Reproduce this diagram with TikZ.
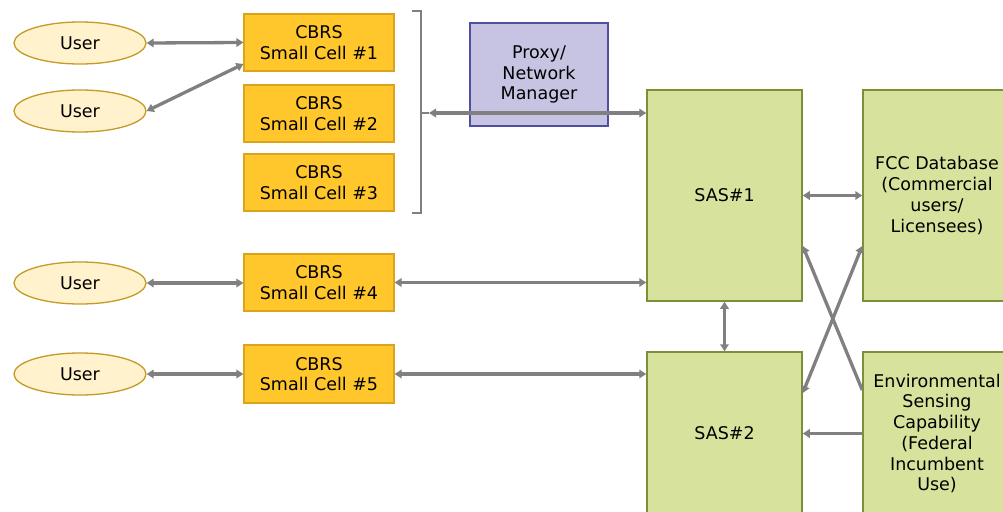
\documentclass[tikz,border=0pt]{standalone}
\usepackage{fontspec}
\setmainfont{DejaVu Sans}
\usetikzlibrary{shapes.geometric,arrows.meta,calc}

\definecolor{userfill}{HTML}{FFF2CC}
\definecolor{userline}{HTML}{C49A26}
\definecolor{cellfill}{HTML}{FFC72C}
\definecolor{cellline}{HTML}{DCA41C}
\definecolor{proxyfill}{HTML}{C7C4E3}
\definecolor{proxyline}{HTML}{4F4F9F}
\definecolor{sasfill}{HTML}{D7E39D}
\definecolor{sasline}{HTML}{7A913A}
\definecolor{linkgray}{HTML}{808080}

\tikzset{
  every node/.style={font=\fontsize{17.5}{20.7}\selectfont, text=black, align=center, inner sep=0pt},
  userbox/.style={ellipse, draw=userline, fill=userfill, line width=1.3pt,
                  minimum width=132pt, minimum height=42pt},
  cellbox/.style={rectangle, draw=cellline, fill=cellfill, line width=1.2pt,
                  minimum width=150pt, minimum height=57pt},
  proxybox/.style={rectangle, draw=proxyline, fill=proxyfill, line width=1.2pt,
                  minimum width=138pt, minimum height=103pt},
  sasbox/.style={rectangle, draw=sasline, fill=sasfill, line width=1.5pt},
  link/.style={draw=linkgray, line width=3.3pt},
  both/.style={link, {Triangle[length=7pt,width=8.5pt]}-{Triangle[length=7pt,width=8.5pt]}},
  toend/.style={link, -{Triangle[length=7pt,width=8.5pt]}},
}

\begin{document}
\begin{tikzpicture}[x=1pt, y=-1pt]
\useasboundingbox (0,0) rectangle (1003,511);

% users
\node[userbox] (u1) at (80,43)  {User};
\node[userbox] (u2) at (80,111) {User};
\node[userbox] (u3) at (80,283) {User};
\node[userbox] (u4) at (80,374) {User};

% small cells
\node[cellbox] (c1) at (319,42.5)  {CBRS\\Small Cell \#1};
\node[cellbox] (c2) at (319,113.5) {CBRS\\Small Cell \#2};
\node[cellbox] (c3) at (319,182.5) {CBRS\\Small Cell \#3};
\node[cellbox] (c4) at (319,282.5) {CBRS\\Small Cell \#4};
\node[cellbox, minimum height=58pt] (c5) at (319,374) {CBRS\\Small Cell \#5};

% proxy / network manager
\node[proxybox] (proxy) at (539,74.5) {Proxy/\\Network\\Manager};

% SAS and data sources
\node[sasbox, minimum width=155pt, minimum height=211pt] (sas1) at (724.5,195.5) {SAS\#1};
\node[sasbox, minimum width=148pt, minimum height=211pt] (fcc)  at (937,195.5)
  {FCC Database\\(Commercial\\users/\\Licensees)};
\node[sasbox, minimum width=155pt, minimum height=163pt] (sas2) at (724.5,433.5) {SAS\#2};
\node[sasbox, minimum width=148pt, minimum height=163pt] (esc)  at (937,433.5)
  {Environmental\\Sensing\\Capability\\(Federal\\Incumbent\\Use)};

% bracket grouping cells 1-3
\coordinate (bt) at (421,11);
\coordinate (bb) at (421,213);
\coordinate (bm) at (421,113);
\coordinate (brk) at (429,113);
\draw[linkgray, line width=2.7pt] ($(bt)+(-9,0)$) -- (bt) -- (bb) -- ($(bb)+(-9,0)$);
\draw[linkgray, line width=2.7pt] (bm) -- (brk);

% user links
\draw[both] (u1.east) -- (c1.west);
\draw[both] (u2.east) -- (c1.west |- 0,64);
\draw[both] (u3.east) -- (c4.west |- u3.east);
\draw[both] (u4.east) -- (c5.west |- u4.east);

% cells to SAS
\draw[both] (brk) -- (sas1.west |- brk);
\draw[both] (c4.east) -- (sas1.west |- c4.east);
\draw[both] (c5.east) -- (sas2.west |- c5.east);

% SAS interconnections
\draw[both] (sas1.east) -- (fcc.west);
\draw[both] (sas1.south) -- (sas2.north);
\draw[toend] (esc.west) -- (sas2.east);
\coordinate (escx) at (esc.west |- 0,390);
\coordinate (sas1x) at (sas1.east |- 0,246);
\coordinate (sas2x) at (sas2.east |- 0,393);
\coordinate (fccx) at (fcc.west |- 0,246);
\draw[toend] (escx) -- (sas1x);
\draw[both] (sas2x) -- (fccx);
\end{tikzpicture}
\end{document}
